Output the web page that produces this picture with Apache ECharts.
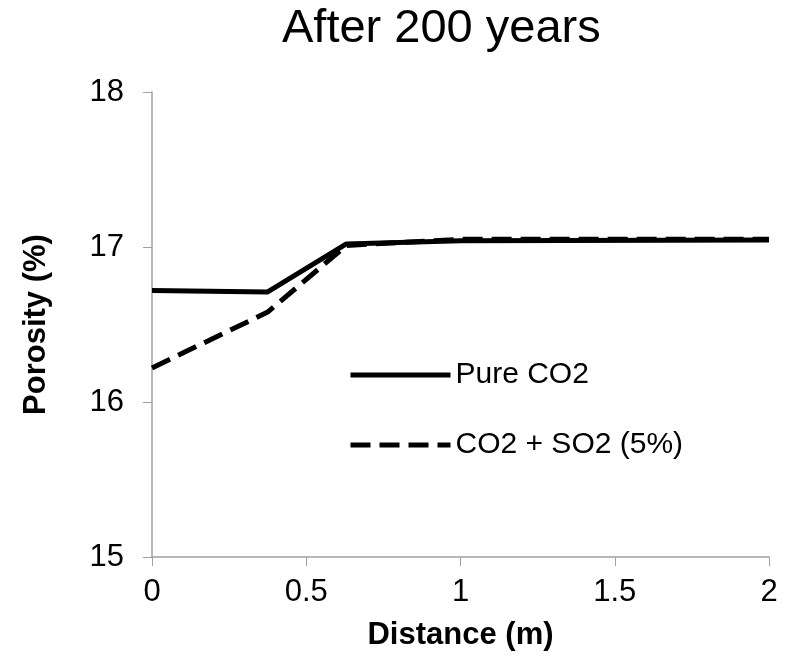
<!DOCTYPE html>
<html>
<head>
<meta charset="utf-8">
<script src="https://cdn.jsdelivr.net/npm/echarts@6/dist/echarts.min.js"></script>
<style>
  html, body { margin: 0; padding: 0; background: #fff; }
  #chart { width: 790px; height: 657px; }
</style>
</head>
<body>
<div id="chart"></div>
<script>
  // values
  var pureDistance = [0, 0.375, 0.63, 1, 2];
  var purePorosity = [16.72, 16.71, 17.02, 17.04, 17.045];
  var mixDistance = [0, 0.375, 0.63, 1, 2];
  var mixPorosity = [16.22, 16.58, 17.01, 17.05, 17.05];
  var xTicks = [0, 0.5, 1, 1.5, 2];
  var yTicks = [15, 16, 17, 18];

  function pairs(xs, ys) {
    return xs.map(function (x, i) { return [x, ys[i]]; });
  }

  var font = '"Liberation Sans", Arial, sans-serif';
  var chart = echarts.init(document.getElementById('chart'));
  chart.setOption({
    animation: false,
    title: {
      text: 'After 200 years',
      left: 277,
      top: 1,
      textStyle: { fontFamily: font, fontSize: 47, fontWeight: 'normal', color: '#000' }
    },
    grid: { left: 152, right: 21, top: 92, bottom: 100 },
    legend: {
      orient: 'vertical',
      left: 343,
      top: 355,
      itemWidth: 100,
      itemHeight: 30,
      itemGap: 40,
      itemStyle: { opacity: 0 },
      lineStyle: { width: 5 },
      textStyle: { fontFamily: font, fontSize: 30, lineHeight: 30, color: '#000', padding: 0 },
      data: ['Pure CO2', 'CO2 + SO2 (5%)']
    },
    xAxis: {
      type: 'value',
      min: 0, max: 2, interval: 0.5,
      axisLine: { lineStyle: { color: '#a0a0a0', width: 1.5 } },
      axisTick: { show: true, inside: false, length: 9, lineStyle: { color: '#a0a0a0' } },
      splitLine: { show: false },
      axisLabel: {
        margin: 20, fontFamily: font, fontSize: 31, color: '#000',
        formatter: function (v) { return xTicks.indexOf(v) >= 0 ? String(v) : ''; }
      },
      name: 'Distance (m)',
      nameLocation: 'middle',
      nameGap: 63,
      nameTextStyle: { fontFamily: font, fontSize: 31, fontWeight: 'bold', color: '#000' }
    },
    yAxis: {
      type: 'value',
      min: 15, max: 18, interval: 1,
      axisLine: { show: true, lineStyle: { color: '#a0a0a0', width: 1.5 } },
      axisTick: { show: true, inside: false, length: 9, lineStyle: { color: '#a0a0a0' } },
      splitLine: { show: false },
      axisLabel: {
        margin: 28, fontFamily: font, fontSize: 31, color: '#000',
        formatter: function (v) { return yTicks.indexOf(v) >= 0 ? String(v) : ''; }
      },
      name: 'Porosity (%)',
      nameLocation: 'middle',
      nameGap: 100,
      nameRotate: 90,
      nameTextStyle: { fontFamily: font, fontSize: 31, fontWeight: 'bold', color: '#000' }
    },
    series: [
      {
        name: 'Pure CO2',
        type: 'line',
        symbol: 'none',
        data: pairs(pureDistance, purePorosity),
        lineStyle: { color: '#000', width: 5 },
        itemStyle: { color: '#000' },
        z: 3
      },
      {
        name: 'CO2 + SO2 (5%)',
        type: 'line',
        symbol: 'none',
        data: pairs(mixDistance, mixPorosity),
        lineStyle: { color: '#000', width: 5, type: [20, 9] },
        itemStyle: { color: '#000' },
        z: 2
      }
    ]
  });
</script>
</body>
</html>
